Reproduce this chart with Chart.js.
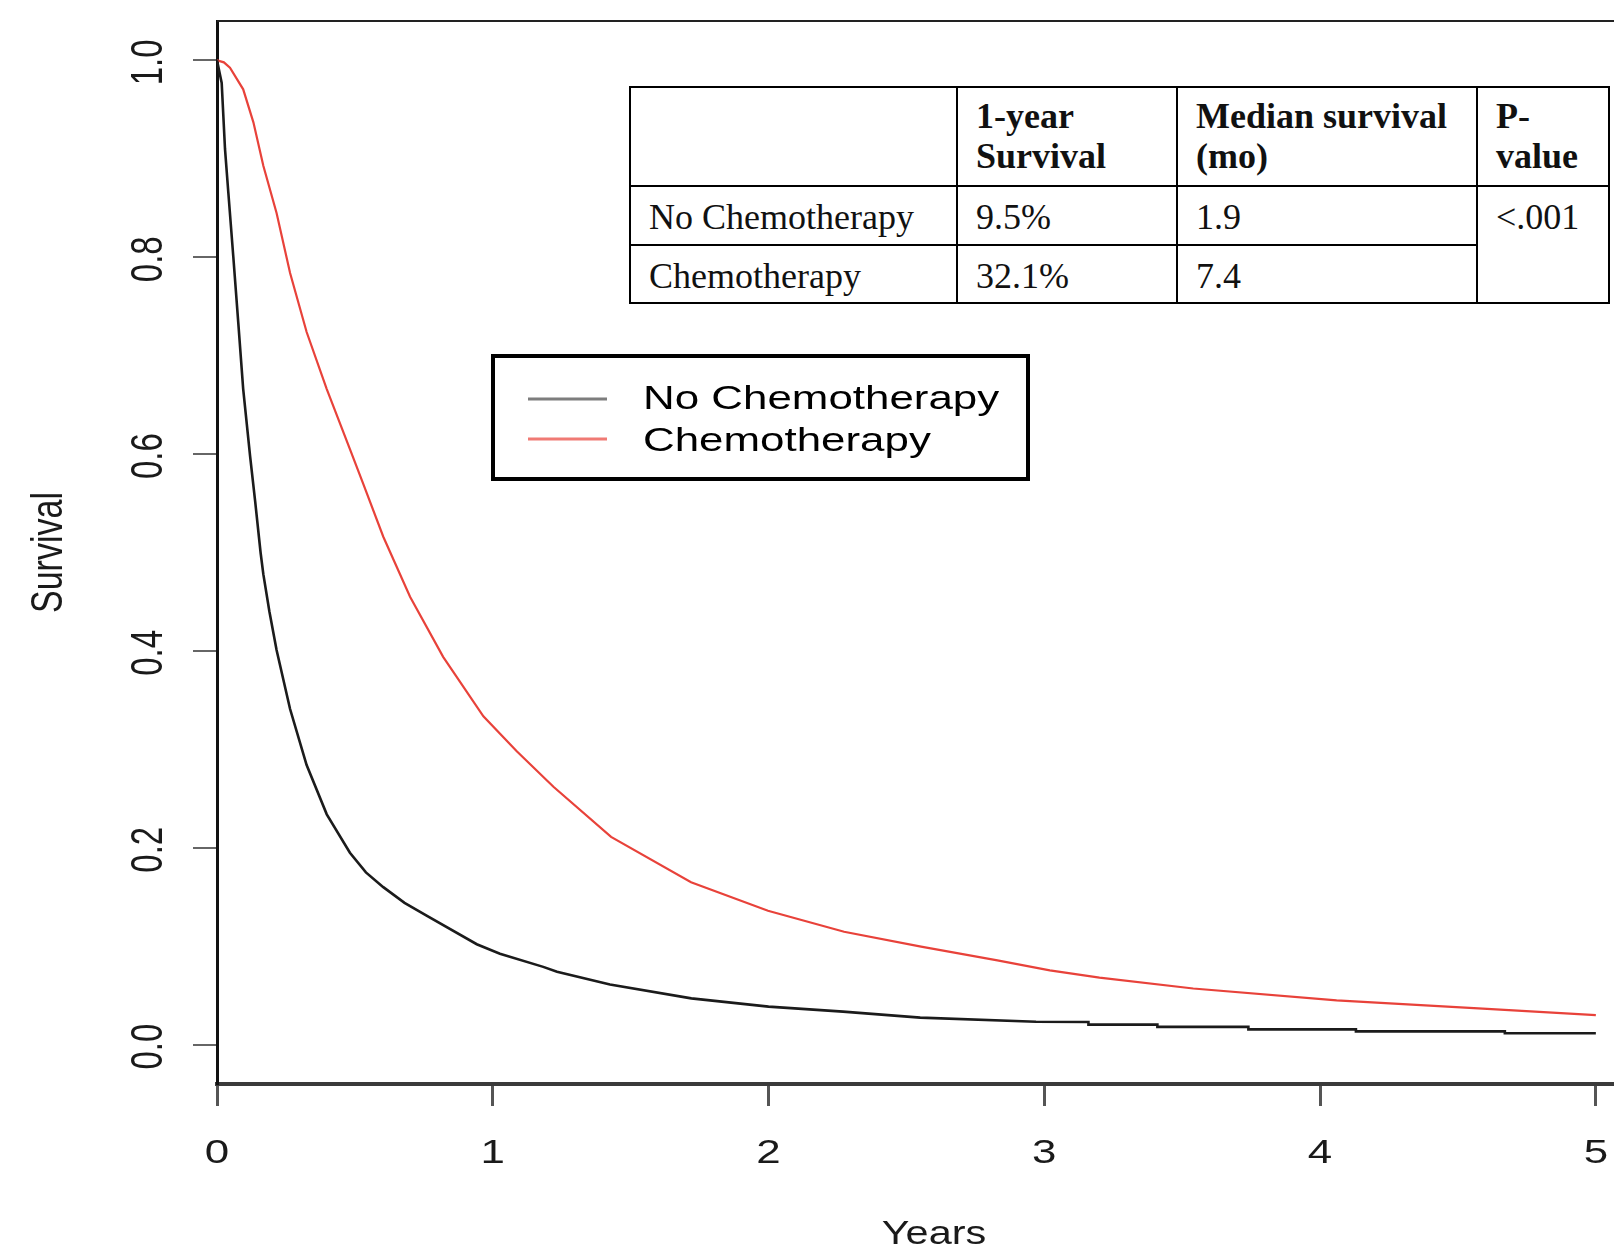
<!DOCTYPE html>
<html>
<head>
<meta charset="utf-8">
<title>Survival</title>
<script src="https://cdn.jsdelivr.net/npm/chart.js@4.4.1/dist/chart.umd.min.js"></script>
<style>
html, body { margin: 0; padding: 0; background: #fff; overflow: hidden; width: 1614px; height: 1248px; }
#wrap { position: relative; width: 1660px; height: 1248px; }
#survChart { position: absolute; left: 0; top: 0; }
#statsTable {
   position: absolute; left: 629px; top: 86px;
   border-collapse: collapse; table-layout: fixed; width: 979px;
   font-family: "Liberation Serif", "Times New Roman", serif; font-size: 36px; color: #111;
   background: #fff;
}
#statsTable td {
   border: 2px solid #000; vertical-align: top; line-height: 40px;
   padding: 0 0 0 18px; white-space: nowrap; overflow: hidden;
}
#statsTable tr.head td { font-weight: bold; padding-top: 8px; }
#statsTable tr.r1 td { padding-top: 10px; }
#statsTable tr.r2 td { padding-top: 10px; }
</style>
</head>
<body>
<div id="wrap">
   <canvas id="survChart" width="1660" height="1248"></canvas>
   <table id="statsTable"></table>
</div>
<script>
//1) DATA//
// Kaplan-Meier curves (years, survival)
const noChemoTime = [0, 0.017, 0.029, 0.041, 0.059, 0.077, 0.095, 0.12, 0.138, 0.158, 0.168, 0.19,
   0.216, 0.265, 0.325, 0.398, 0.482, 0.54, 0.603, 0.68, 0.76, 0.942, 1.026, 1.183, 1.233, 1.425, 1.72, 2.0,
   2.27, 2.55, 2.97, 3.16, 3.16, 3.41, 3.41, 3.74, 3.74, 4.13, 4.13, 4.67, 4.67, 5.0];
const noChemoSurv = [1.0, 0.977, 0.91, 0.866, 0.801, 0.734, 0.666, 0.598, 0.553, 0.5, 0.478, 0.44,
   0.401, 0.341, 0.284, 0.234, 0.195, 0.175, 0.16, 0.144, 0.131, 0.102, 0.0924, 0.079, 0.074, 0.061, 0.047, 0.0386,
   0.0335, 0.0274, 0.0233, 0.023, 0.0203, 0.0203, 0.018, 0.018, 0.0155, 0.0155, 0.0135, 0.0135, 0.0115, 0.0115];

const chemoTime = [0, 0.025, 0.047, 0.095, 0.132, 0.168, 0.216, 0.265, 0.325, 0.398, 0.482, 0.53,
   0.603, 0.70, 0.82, 0.966, 1.087, 1.22, 1.429, 1.719, 1.998, 2.274, 2.553, 2.83, 3.02, 3.2,
   3.54, 4.06, 4.59, 5.0];
const chemoSurv = [1.0, 0.998, 0.9925, 0.9706, 0.937, 0.893, 0.845, 0.784, 0.724, 0.666, 0.605, 0.57,
   0.516, 0.455, 0.394, 0.3335, 0.298, 0.262, 0.211, 0.165, 0.136, 0.1147, 0.0995, 0.0856, 0.0755, 0.068,
   0.057, 0.045, 0.0365, 0.030];

const seriesNames = ['No Chemotherapy', 'Chemotherapy'];
const xTickValues = [0, 1, 2, 3, 4, 5];
const xTickLabels = ['0', '1', '2', '3', '4', '5'];
const yTickValues = [0, 0.2, 0.4, 0.6, 0.8, 1.0];
const yTickLabels = ['0.0', '0.2', '0.4', '0.6', '0.8', '1.0'];

const tableHeader = ['', '1-year<br>Survival', 'Median survival<br>(mo)', 'P-<br>value'];
const tableGroups = ['No Chemotherapy', 'Chemotherapy'];
const oneYearSurv = ['9.5%', '32.1%'];
const medianSurv = ['1.9', '7.4'];
const pValue = '<.001';

//2) TABLE//
const colWidths = [327, 220, 300, 132];
let html = '<colgroup>' + colWidths.map(w => `<col style="width:${w}px">`).join('') + '</colgroup>';
html += '<tr class="head" style="height:99px">' + tableHeader.map(h => `<td>${h}</td>`).join('') + '</tr>';
html += `<tr class="r1" style="height:59px"><td>${tableGroups[0]}</td><td>${oneYearSurv[0]}</td><td>${medianSurv[0]}</td>` +
   `<td rowspan="2">${pValue.replace('<', '&lt;')}</td></tr>`;
html += `<tr class="r2" style="height:58px"><td>${tableGroups[1]}</td><td>${oneYearSurv[1]}</td><td>${medianSurv[1]}</td></tr>`;
document.getElementById('statsTable').innerHTML = html;

//3) CHART//
const stretch = 1.33; // the original R figure is stretched sideways
const sansFont = '"Liberation Sans", Arial, sans-serif';

function stretchedText(ctx, text, x, y, rotate, sx = stretch) {
   ctx.save();
   ctx.translate(x, y);
   ctx.scale(sx, 1);
   if (rotate) ctx.rotate(-Math.PI / 2);
   ctx.fillText(text, 0, 0);
   ctx.restore();
}

const frameAndText = {
   id: 'frameAndText',
   afterDraw(chart) {
      const { ctx, chartArea: a, scales: { x, y } } = chart;
      ctx.save();
      // top of the box
      ctx.strokeStyle = '#222';
      ctx.lineWidth = 2;
      ctx.beginPath();
      ctx.moveTo(a.left, a.top);
      ctx.lineTo(a.right, a.top);
      ctx.stroke();

      // tick labels
      ctx.fillStyle = '#1a1a1a';
      ctx.font = `33px ${sansFont}`;
      ctx.textAlign = 'center';
      ctx.textBaseline = 'alphabetic';
      xTickValues.forEach((v, i) => stretchedText(ctx, xTickLabels[i], x.getPixelForValue(v), a.bottom + 79, false));
      yTickValues.forEach((v, i) => stretchedText(ctx, yTickLabels[i], a.left - 55, y.getPixelForValue(v) + 2, true));

      // axis titles
      ctx.font = `34px ${sansFont}`;
      stretchedText(ctx, 'Years', (a.left + a.right) / 2, a.bottom + 160, false, 1.22);
      stretchedText(ctx, 'Survival', a.left - 155, (a.top + a.bottom) / 2, true);

      // legend box
      const box = { left: 493, top: 356, right: 1028, bottom: 479 };
      ctx.fillStyle = '#fff';
      ctx.fillRect(box.left, box.top, box.right - box.left, box.bottom - box.top);
      ctx.strokeStyle = '#000';
      ctx.lineWidth = 4;
      ctx.strokeRect(box.left, box.top, box.right - box.left, box.bottom - box.top);
      const swatch = ['#7d7d7d', '#f07a74'];
      const rowLine = [399, 439];
      const rowText = [409, 451];
      ctx.font = `33px ${sansFont}`;
      ctx.textAlign = 'left';
      chart.data.datasets.forEach((ds, i) => {
         ctx.strokeStyle = swatch[i];
         ctx.lineWidth = 3;
         ctx.beginPath();
         ctx.moveTo(528, rowLine[i]);
         ctx.lineTo(607, rowLine[i]);
         ctx.stroke();
         ctx.fillStyle = '#000';
         stretchedText(ctx, ds.label, 643, rowText[i], false);
      });
      ctx.restore();
   }
};

const survChart = new Chart(document.getElementById('survChart'), {
   type: 'line',
   data: {
      datasets: [
         {
            label: seriesNames[0],
            data: noChemoTime.map((t, i) => ({ x: t, y: noChemoSurv[i] })),
            borderColor: '#1b1b1b',
            borderWidth: 2.6,
            pointRadius: 0,
            tension: 0
         },
         {
            label: seriesNames[1],
            data: chemoTime.map((t, i) => ({ x: t, y: chemoSurv[i] })),
            borderColor: '#e8423a',
            borderWidth: 2.2,
            pointRadius: 0,
            tension: 0
         }
      ]
   },
   options: {
      responsive: false,
      animation: false,
      layout: { padding: { left: 0, top: 21, right: 9, bottom: 0 } },
      plugins: {
         legend: { display: false },
         tooltip: { enabled: false }
      },
      scales: {
         x: {
            type: 'linear',
            min: 0,
            max: 5.2,
            afterFit: s => { s.height = 164 },
            afterBuildTicks: s => { s.ticks = xTickValues.map(v => ({ value: v })) },
            ticks: { display: false },
            grid: { drawOnChartArea: false, drawTicks: true, tickLength: 22, color: '#555', lineWidth: 3 },
            border: { display: true, color: '#3a3a3a', width: 4 }
         },
         y: {
            min: -0.04,
            max: 1.04,
            afterFit: s => { s.width = 217 },
            afterBuildTicks: s => { s.ticks = yTickValues.map(v => ({ value: v })) },
            ticks: { display: false },
            grid: { drawOnChartArea: false, drawTicks: true, tickLength: 24, color: '#666', lineWidth: 2 },
            border: { display: true, color: '#111', width: 3 }
         }
      }
   },
   plugins: [frameAndText]
});
</script>
</body>
</html>
